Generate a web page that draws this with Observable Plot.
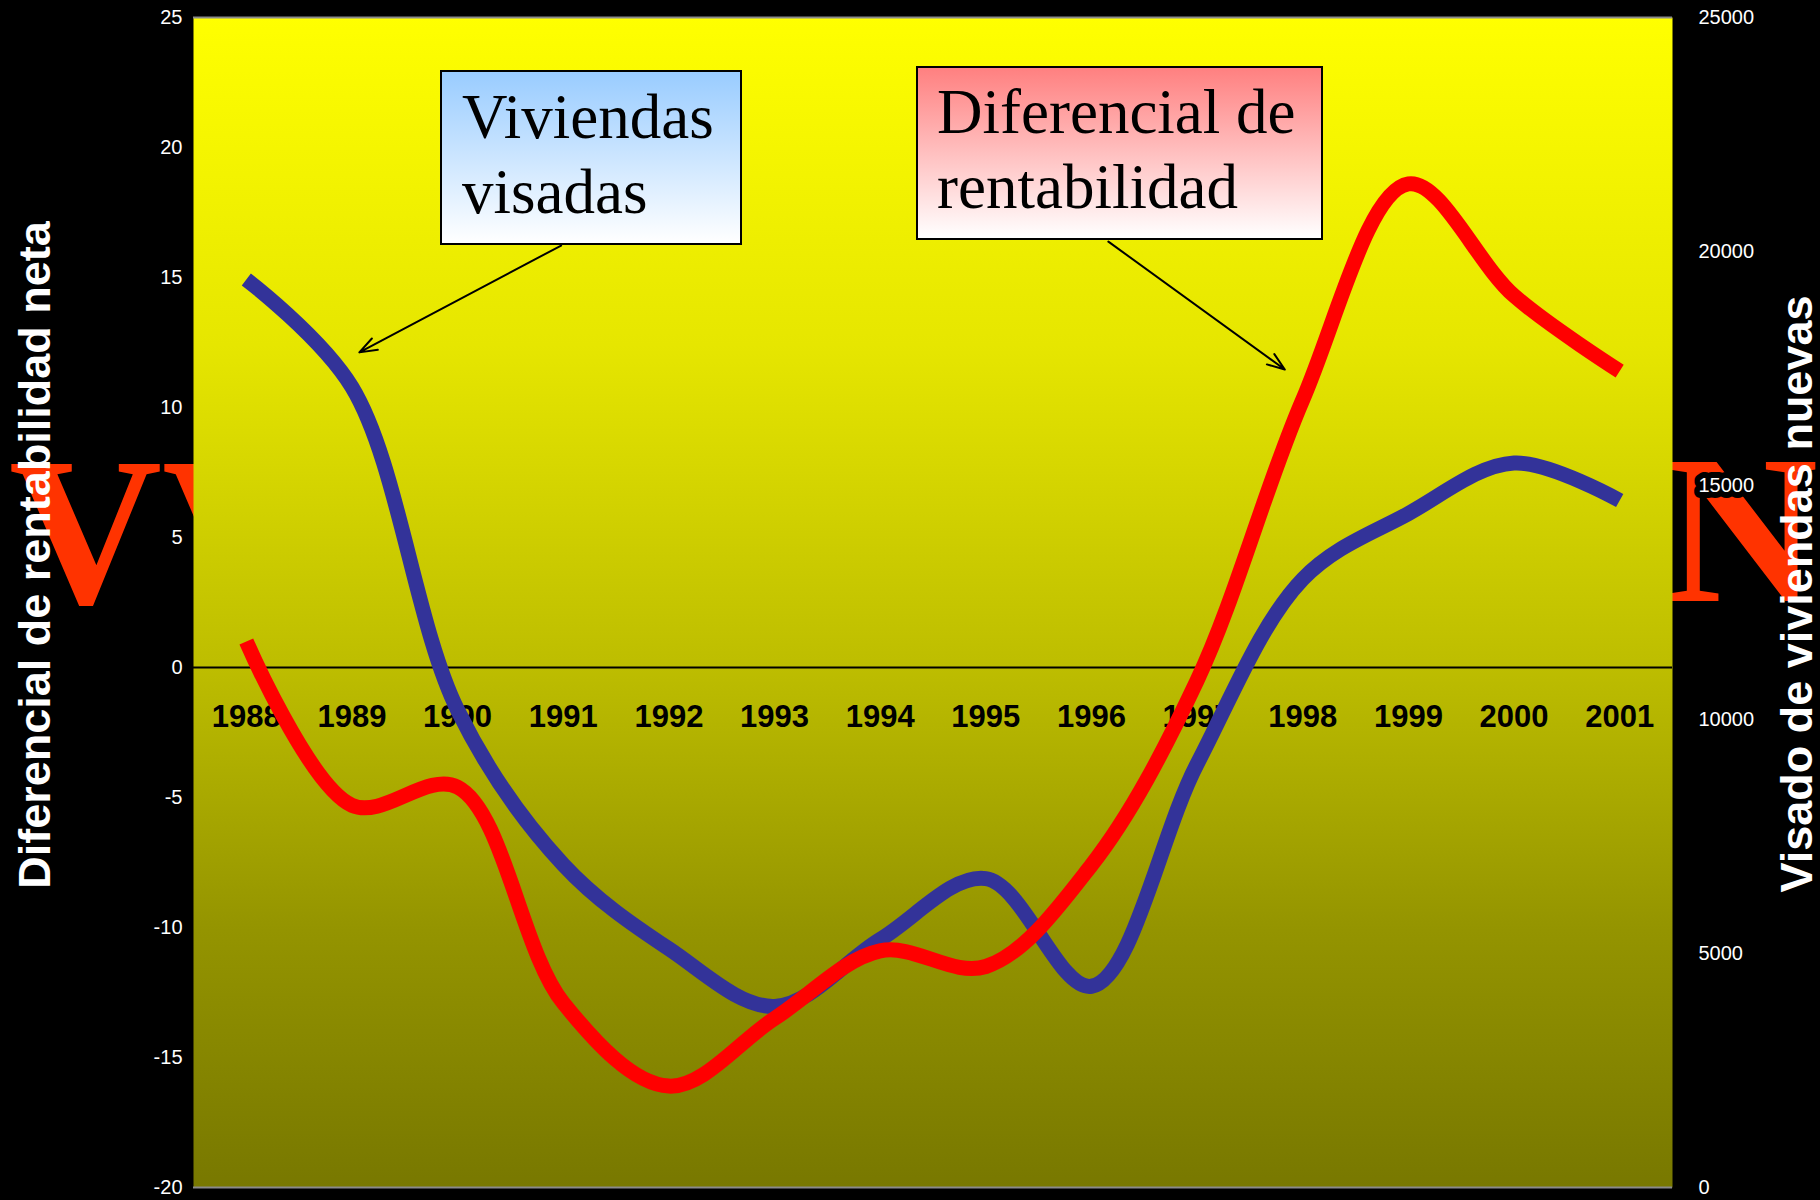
<!DOCTYPE html>
<html>
<head>
<meta charset="utf-8">
<script src="https://cdn.jsdelivr.net/npm/d3@7"></script>
<script src="https://cdn.jsdelivr.net/npm/@observablehq/plot@0.6"></script>
<style>
html, body { margin: 0; padding: 0; background: #000; }
#wrap { position: relative; width: 1820px; height: 1200px; overflow: hidden; background: #000; }
#bigletters { position: absolute; left: 0; top: 0; }
#chart { position: absolute; left: 0; top: 0; }
.ytitle { position: absolute; color: #fff; font-family: "Liberation Sans", Arial, sans-serif; font-weight: bold; font-size: 45px; white-space: nowrap; transform: translate(-50%, -50%) rotate(-90deg); }
.box { position: absolute; box-sizing: border-box; border: 2px solid #000; font-family: "Liberation Serif", "Times New Roman", serif; font-size: 63px; line-height: 75px; color: #000; white-space: nowrap; }
</style>
</head>
<body>
<div id="wrap">
  <svg id="bigletters" width="1820" height="1200">
    <text x="9" y="603" font-family="Liberation Serif, Times New Roman, serif" font-weight="bold" font-size="212" fill="#FF3300">VV</text>
    <text x="1818" y="601" text-anchor="end" font-family="Liberation Serif, Times New Roman, serif" font-weight="bold" font-size="212" fill="#FF3300">N</text>
  </svg>
  <div id="chart"></div>
  <div class="ytitle" style="left:35px; top:555px;">Diferencial de rentabilidad neta</div>
  <div class="ytitle" style="left:1797px; top:594px;">Visado de viviendas nuevas</div>
  <div class="box" style="left:440px; top:70px; width:302px; height:175px; padding:8px 0 0 20px; background:linear-gradient(#99CCFF, #FFFFFF);">Viviendas<br>visadas</div>
  <div class="box" style="left:916px; top:66px; width:407px; height:174px; padding:7px 0 0 19px; background:linear-gradient(#FF8080, #FFFFFF);">Diferencial de<br>rentabilidad</div>
</div>
<script>
// ---- data ----
const years = [1988, 1989, 1990, 1991, 1992, 1993, 1994, 1995, 1996, 1997, 1998, 1999, 2000, 2001];
const diferencial = [1.0, -5.3, -4.6, -12.9, -16.1, -13.5, -10.9, -11.5, -7.6, -0.5, 10.3, 18.6, 14.3, 11.4];
const visados = [19400, 17100, 10200, 6900, 5100, 3870, 5300, 6600, 4300, 9050, 13000, 14400, 15480, 14680];
const leftTicks = [-20, -15, -10, -5, 0, 5, 10, 15, 20, 25];
const rightTicks = [0, 5000, 10000, 15000, 20000, 25000];
const leftDomain = [-20, 25];
const rightDomain = [0, 25000];
// annotation arrows (data coordinates: year, left-axis value)
const arrowStartX = [1990.98, 1996.16];
const arrowStartY = [16.23, 16.38];
const arrowEndX = [1989.07, 1997.83];
const arrowEndY = [12.12, 11.46];

// ---- derived tables ----
const toLeft = d3.scaleLinear().domain(rightDomain).range(leftDomain);
const redData = years.map((year, i) => ({year, value: diferencial[i]}));
const blueData = years.map((year, i) => ({year, value: toLeft(visados[i])}));
const arrows = arrowStartX.map((x1, i) => ({x1, y1: arrowStartY[i], x2: arrowEndX[i], y2: arrowEndY[i]}));

const chart = Plot.plot({
  width: 1820,
  height: 1200,
  marginLeft: 193,
  marginRight: 148,
  marginTop: 17,
  marginBottom: 13,
  style: {background: "transparent", fontFamily: "Liberation Sans, Arial, sans-serif", color: "white", overflow: "visible"},
  x: {domain: [years[0] - 0.5, years[years.length - 1] + 0.5], axis: null},
  y: {domain: leftDomain},
  marks: [
    Plot.frame({fill: "url(#bgGrad)", stroke: null}),
    Plot.ruleY([leftDomain[1], leftDomain[0]], {stroke: "#8a8a8a", strokeWidth: 2}),
    Plot.ruleY([0], {stroke: "black", strokeWidth: 2}),
    Plot.text(years, {x: d => d, y: () => 0, dy: 50, text: d => String(d), fill: "black", fontWeight: "bold", fontSize: 31}),
    Plot.axisY(leftTicks, {anchor: "left", tickSize: 0, tickPadding: 11, fontSize: 20, color: "white", tickFormat: d => String(d), label: null}),
    Plot.axisY(rightTicks.map(toLeft), {anchor: "right", tickSize: 0, tickPadding: 26, fontSize: 20, color: "white", textStroke: "black", textStrokeWidth: 12, tickFormat: d => String(Math.round(toLeft.invert(d))), label: null}),
    Plot.line(blueData, {x: "year", y: "value", stroke: "#333399", strokeWidth: 15, curve: "catmull-rom", strokeLinecap: "butt"}),
    Plot.line(redData, {x: "year", y: "value", stroke: "#FF0000", strokeWidth: 15, curve: "catmull-rom", strokeLinecap: "butt"}),
    Plot.arrow(arrows, {x1: "x1", y1: "y1", x2: "x2", y2: "y2", stroke: "black", strokeWidth: 2, headLength: 14, headAngle: 40, bend: 0})
  ]
});

const svg = d3.select(chart);
const defs = svg.insert("defs", ":first-child");
const grad = defs.append("linearGradient").attr("id", "bgGrad").attr("x1", 0).attr("y1", 0).attr("x2", 0).attr("y2", 1);
[[0, "#ffff00"], [0.28, "#e6e600"], [0.556, "#bdbd00"], [0.78, "#949400"], [1, "#787800"]].forEach(([o, c]) => {
  grad.append("stop").attr("offset", o).attr("stop-color", c);
});
document.getElementById("chart").appendChild(chart);
</script>
</body>
</html>
